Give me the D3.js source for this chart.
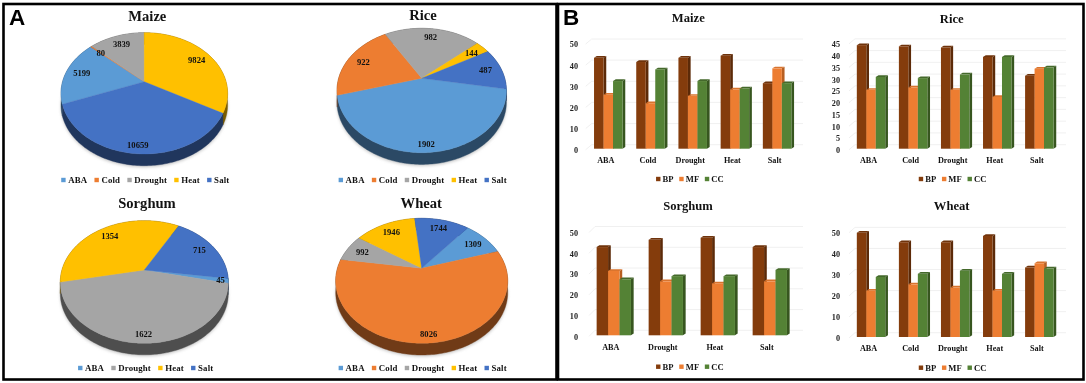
<!DOCTYPE html>
<html><head><meta charset="utf-8">
<style>html,body{margin:0;padding:0;background:#fff;overflow:hidden}svg{display:block;filter:blur(.45px)}text{font-family:"Liberation Serif",serif;font-weight:700;fill:#111}</style>
<script src="https://cdn.jsdelivr.net/npm/d3@7/dist/d3.min.js"></script>
</head><body><svg id="c" width="1086" height="383"></svg>
<script>
// ---- data ----
const stressAll = ["ABA","Cold","Drought","Heat","Salt"];
const stressSorghum = ["ABA","Drought","Heat","Salt"];
const maizeGenes = [5199,80,3839,9824,10659];
const riceGenes = [1902,922,982,144,487];
const sorghumGenes = [45,1622,1354,715];
const wheatGenes = [1309,8026,992,1946,1744];
const goTerms = ["BP","MF","CC"];
const maizeBP=[43,41,43,44,31], maizeMF=[25.5,21.5,25,28,38], maizeCC=[32,37.5,32,28.5,31];
const riceBP=[44,43.5,43,39,31], riceMF=[25,26,25,22,34], riceCC=[30.5,30,31.5,39,34.5];
const sorghumBP=[42.5,46,47,42.5], sorghumMF=[31,26,25,26], sorghumCC=[27,28.5,28.5,31.5];
const wheatBP=[49.5,45,45,48,33], wheatMF=[22,25,23.5,22,35], wheatCC=[28.5,30,31.5,30,32.5];
const ticks50=[0,10,20,30,40,50], ticks45=[0,5,10,15,20,25,30,35,40,45];
// ---- styles ----
const stressColor=d3.scaleOrdinal(stressAll,["#5b9bd5","#ed7d31","#a5a5a5","#ffc000","#4472c4"]);
const goColor=d3.scaleOrdinal(goTerms,["#843c0c","#ed7d31","#548235"]);
const goSide=d3.scaleOrdinal(goTerms,["#5c2a08","#b85f22","#37561f"]);
const goTop=d3.scaleOrdinal(goTerms,["#6f330b","#d9742e","#44692b"]);
const svg=d3.select("#c");

// panel frames
[[3.5,4,553,375.5],[558,4,525.5,375.5]].forEach(r=>svg.append("rect").attr("x",r[0]).attr("y",r[1]).attr("width",r[2]).attr("height",r[3]).attr("fill","none").attr("stroke","#000").attr("stroke-width",2.6));
[["A",9,25],["B",563,25]].forEach(t=>svg.append("text").text(t[0]).attr("x",t[1]).attr("y",t[2]).style("font-family","'Liberation Sans',sans-serif").style("font-size","22.5px").style("fill","#000"));

const defs=svg.append("defs");
defs.append("filter").attr("id","sh").attr("x","-20%").attr("y","-20%").attr("width","140%").attr("height","140%").append("feGaussianBlur").attr("stdDeviation",1.6);

function legend(g,items,color,cx,y,fs,sw,gap,itemGap){
  const l=g.append("g");let x=0;
  items.forEach(n=>{
    l.append("rect").attr("x",x).attr("y",y-sw/2).attr("width",sw).attr("height",sw).attr("fill",color(n));
    const t=l.append("text").text(n).attr("x",x+sw+gap).attr("y",y+fs*.33).style("font-size",fs+"px").style("letter-spacing",".15px");
    x+=sw+gap+t.node().getComputedTextLength()+itemGap;
  });
  l.attr("transform",`translate(${cx-(x-itemGap)/2},0)`);
}

function pie3d(o){
  const g=svg.append("g");
  g.append("text").text(o.title).attr("x",o.titleX).attr("y",o.titleY).attr("text-anchor","middle").style("font-size","14.6px");
  const T=o.cy-o.top,B=o.bottom-o.cy,k=(B-T)/(B+T),b=B*(1-k),a=o.hw*Math.sqrt(1-k*k);
  const proj=(th,r)=>{const u=r*Math.sin(th),v=-r*Math.cos(th),d=1-k*v;return [o.cx+a*u/d,o.cy+b*v/d];};
  const arcs=d3.pie().sort(null).startAngle(o.start*Math.PI/180).endAngle(o.start*Math.PI/180+2*Math.PI)(o.values);
  const line=d3.line();
  const rim=(s)=>{const n=Math.max(2,Math.ceil((s.endAngle-s.startAngle)/.02));return d3.range(n+1).map(i=>proj(s.startAngle+(s.endAngle-s.startAngle)*i/n,1));};
  // soft ground shadow
  const all=rim({startAngle:0,endAngle:2*Math.PI}).map(p=>[p[0],p[1]+o.depth+1.5]);
  g.append("path").attr("d",line(all)+"Z").attr("fill","#c8c8c8").attr("filter","url(#sh)");
  // side walls
  arcs.forEach((s,i)=>{
    const pts=rim(s);
    const low=pts.map(p=>[p[0],p[1]+o.depth]).reverse();
    const side=d3.color(stressColor(o.cats[i])).darker(2.1);
    g.append("path").attr("d",line(pts.concat(low))+"Z").attr("fill",side).attr("stroke",side).attr("stroke-width",.4);
  });
  // top faces
  arcs.forEach((s,i)=>{
    g.append("path").attr("d",line([[o.cx,o.cy]].concat(rim(s)))+"Z").attr("fill",stressColor(o.cats[i])).attr("stroke",stressColor(o.cats[i])).attr("stroke-width",.3);
  });
  // value labels
  arcs.forEach((s,i)=>{
    const m=(s.startAngle+s.endAngle)/2,v=-Math.cos(m);
    const r=(o.labelR&&o.labelR[i])||(.8+.1*Math.max(0,v));
    const p=proj(m,r);
    g.append("text").text(o.values[i]).attr("x",p[0]).attr("y",p[1]+3).attr("text-anchor","middle").style("font-size","8.6px");
  });
  legend(g,o.cats,stressColor,o.legX,o.legY,8.8,4.4,2.6,7.2);
}
pie3d({title:"Maize",titleX:147.3,titleY:20.7,values:maizeGenes,cats:stressAll,start:249,cx:144.3,cy:81.7,top:32.7,bottom:154,hw:83.3,depth:11.7,legX:145.3,legY:180});
pie3d({title:"Rice",titleX:423,titleY:20,values:riceGenes,cats:stressAll,start:100,cx:421.7,cy:78.3,top:28.3,bottom:152.7,hw:84.7,depth:11.7,legX:422.7,legY:180});
pie3d({title:"Sorghum",titleX:147,titleY:208,values:sorghumGenes,cats:stressSorghum,start:98,cx:144.3,cy:270,top:220.7,bottom:343.3,hw:84,depth:11.5,legX:145.7,legY:368,labelR:[.91]});
pie3d({title:"Wheat",titleX:421.3,titleY:207.7,values:wheatGenes,cats:stressAll,start:39,cx:421.7,cy:268.3,top:218.3,bottom:343.3,hw:86,depth:11.7,legX:422.7,legY:368});

function bars3d(o){
  const g=svg.append("g");
  g.append("text").text(o.title).attr("x",o.titleX).attr("y",o.titleY).attr("text-anchor","middle").style("font-size","12.6px");
  const max=o.ticks[o.ticks.length-1];
  const y=d3.scaleLinear().domain([0,max]).range([o.base,o.top]);
  const x=d3.scaleBand().domain(o.cats).range([o.left,o.left+o.step*o.cats.length]).paddingInner(o.pad).paddingOuter(o.pad/2);
  const xi=d3.scaleBand().domain(goTerms).range([0,x.bandwidth()]);
  const dx=o.wallDx,dy=o.wallDy,sx=2.7,sy=1.7;
  // back wall grid
  o.ticks.forEach(t=>{
    g.append("path").attr("d",d3.line()([[o.gridL-dx,y(t)+1],[o.gridL,y(t)-dy],[o.gridR,y(t)-dy]])).attr("fill","none").attr("stroke","#ececec").attr("stroke-width",.8);
  });
  // y axis text
  const ax=g.append("g").attr("transform",`translate(${o.axisX},1.3)`).call(d3.axisLeft(y).tickValues(o.ticks).tickSize(0).tickPadding(0));
  ax.select(".domain").remove();
  ax.selectAll("text").style("font-family","'Liberation Serif',serif").style("font-size","8.2px").style("font-weight","700").style("fill","#222");
  // bars
  o.cats.forEach((c,ci)=>{
    goTerms.forEach((s,si)=>{
      const x0=x(c)+xi(s),w=xi.bandwidth(),yt=y(o.series[si][ci]),yb=o.base;
      g.append("path").attr("d",d3.line()([[x0,yt],[x0+sx,yt-sy],[x0+w+sx,yt-sy],[x0+w,yt]])+"Z").attr("fill",goTop(s));
      g.append("path").attr("d",d3.line()([[x0+w,yt],[x0+w+sx,yt-sy],[x0+w+sx,yb-sy],[x0+w,yb]])+"Z").attr("fill",goSide(s));
      g.append("rect").attr("x",x0).attr("y",yt).attr("width",w).attr("height",yb-yt).attr("fill",goColor(s));
    });
    g.append("text").text(c).attr("x",x(c)+x.bandwidth()/2-o.labShift).attr("y",o.catY).attr("text-anchor","middle").style("font-size","8.2px");
  });
  legend(g,goTerms,goColor,o.legX,o.legY,8.6,4.4,2,5.5);
}
bars3d({title:"Maize",titleX:688.3,titleY:21.7,cats:stressAll,series:[maizeBP,maizeMF,maizeCC],ticks:ticks50,base:148.7,top:43,left:587.2,step:42.2,pad:.324,gridL:591.7,gridR:803,wallDx:6,wallDy:4,axisX:578,catY:163,legX:690,legY:179,labShift:2.5});
bars3d({title:"Rice",titleX:951.7,titleY:22.7,cats:stressAll,series:[riceBP,riceMF,riceCC],ticks:ticks45,base:148.7,top:42.8,left:850,step:42.07,pad:.324,gridL:855,gridR:1066,wallDx:6,wallDy:4,axisX:840,catY:163,legX:952.7,legY:179,labShift:2.5});
bars3d({title:"Sorghum",titleX:688,titleY:210,cats:stressSorghum,series:[sorghumBP,sorghumMF,sorghumCC],ticks:ticks50,base:335.3,top:231.5,left:587.8,step:52,pad:.34,gridL:595,gridR:803,wallDx:6,wallDy:5,axisX:578,catY:350,legX:690,legY:366.7,labShift:3});
bars3d({title:"Wheat",titleX:951.7,titleY:210,cats:stressAll,series:[wheatBP,wheatMF,wheatCC],ticks:ticks50,base:337,top:231.7,left:850,step:42.07,pad:.324,gridL:855,gridR:1066,wallDx:6,wallDy:4.3,axisX:840,catY:351,legX:952.7,legY:367.7,labShift:2.5});
</script></body></html>
